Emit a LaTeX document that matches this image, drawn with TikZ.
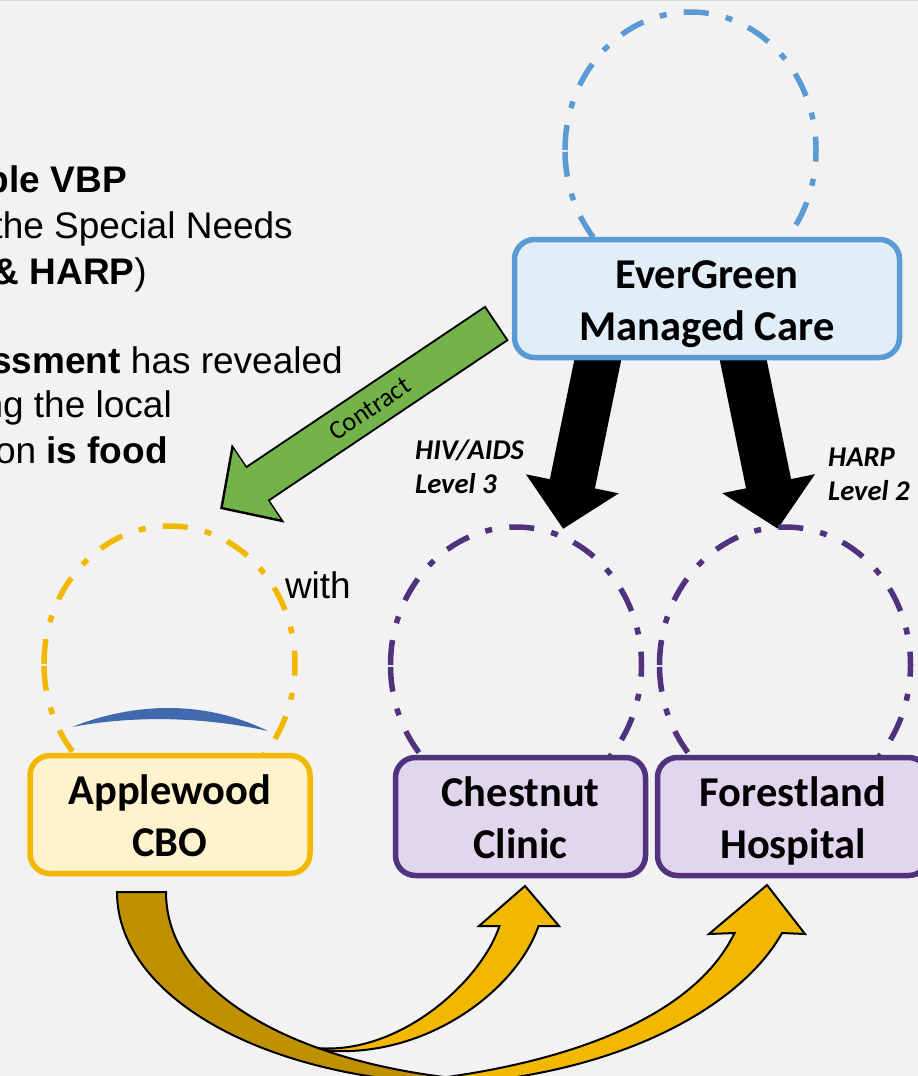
\documentclass[tikz,border=0pt]{standalone}
\usepackage{fontspec}
\setmainfont{Liberation Sans}
\newfontfamily\carlito{Carlito}
\usetikzlibrary{arrows.meta,backgrounds,calc,shapes.geometric}
\definecolor{pageGrey}{HTML}{F2F2F2}
\definecolor{edgeGrey}{HTML}{D9D9D9}
\definecolor{careBlue}{HTML}{5B9BD5}
\definecolor{careFill}{HTML}{E1EDF7}
\definecolor{cboGold}{HTML}{F2B800}
\definecolor{cboFill}{HTML}{FFF2CC}
\definecolor{cboDark}{HTML}{BF9000}
\definecolor{siteViolet}{HTML}{50337C}
\definecolor{siteFill}{HTML}{E0D7EE}
\definecolor{contractGreen}{HTML}{74B24A}
\definecolor{swooshBlue}{HTML}{4169AE}
\newcommand{\boxtext}[2]{\raisebox{-11.5pt}[0pt][0pt]{\begin{tabular}{@{}c@{}}#1\\#2\end{tabular}}}
\tikzset{
  ringnode/.style={ellipse, minimum width=251pt, minimum height=276pt, inner sep=0pt, outer sep=0pt},
  ringline/.style={line width=5.5pt, dash pattern=on 25pt off 17.4pt on 7pt off 17.4pt},
  boxnode/.style={draw=#1, line width=5.5pt, rounded corners=20pt, inner sep=0pt, outer sep=0pt,
    font=\carlito\bfseries\fontsize{42.5}{52}\selectfont},
  leftline/.style={anchor=base east, inner sep=0pt, font=\fontsize{37}{44}\selectfont},
  leveltext/.style={anchor=west, align=left, inner sep=0pt, font=\carlito\bfseries\itshape\fontsize{28.6}{34}\selectfont},
  bigarrow/.style={line width=46pt, -{Triangle[length=46pt,width=92pt]}},
  goldarrow/.style={draw=black, line width=2pt, fill=#1, line join=miter}
}
\begin{document}
\begin{tikzpicture}[x=1pt,y=-1pt]
\useasboundingbox (0,0) rectangle (918,1076);
% Left hand text
\node[leftline] (lineone) at (127,192) {\textbf{ble VBP}};
\node[leftline] (linetwo) at (293,238) {the Special Needs};
\node[leftline] (linethree) at (147,284) {\textbf{\& HARP})};
\node[leftline] (linefour) at (343,373) {\textbf{ssment} has revealed};
\node[leftline] (linefive) at (172,417) {ng the local};
\node[leftline] (linesix) at (168,463) {on \textbf{is food}};
\node[leftline] (withword) at (351,598) {with};
% Dashed rings
\node[ringnode] (evergreenring) at (690.5,150) {};
\node[ringnode] (applewoodring) at (169.5,664) {};
\node[ringnode] (chestnutring) at (516,665) {};
\node[ringnode] (forestlandring) at (785,665) {};
\foreach \ringname/\ringcolor in {evergreenring/careBlue, applewoodring/cboGold, chestnutring/siteViolet, forestlandring/siteViolet} {
    \draw[ringline, draw=\ringcolor] (\ringname.west) arc[start angle=180, delta angle=360, x radius=125.5, y radius=138];
}
\fill[swooshBlue] (72,727) .. controls (135,702) and (205,700) .. (268,731)
  .. controls (205,717) and (135,715) .. (72,727) -- cycle;
% Boxes
\node[boxnode=careBlue, fill=careFill, minimum width=385pt, minimum height=118pt] (evergreen) at (707,298.5) {\boxtext{EverGreen}{Managed Care}};
\node[boxnode=cboGold, fill=cboFill, minimum width=280pt, minimum height=118pt] (applewood) at (170,814.5) {\boxtext{Applewood}{CBO}};
\node[boxnode=siteViolet, fill=siteFill, minimum width=250pt, minimum height=118pt] (chestnut) at (520.5,816.5) {\boxtext{Chestnut}{Clinic}};
\node[boxnode=siteViolet, fill=siteFill, minimum width=271pt, minimum height=118pt] (forestland) at (793,816.5) {\boxtext{Forestland}{Hospital}};
% Level labels
\node[leveltext] (hivlabel) at (415,467) {HIV/AIDS\\Level 3};
\node[leveltext] (harplabel) at (828,474) {HARP\\Level 2};
% Contract arrow
\coordinate (contracttail) at (497,323);
\coordinate (contracttip) at (220,509);
\draw[line width=42pt, -{Triangle[length=46pt,width=92pt]}]
  (contracttail) -- (contracttip);
\draw[contractGreen, line width=38pt, -{Triangle[length=41pt,width=82pt]}, shorten <=2pt, shorten >=3.5pt]
  (contracttail) -- (contracttip) node[pos=0.46, sloped, black, inner sep=0pt, font=\carlito\fontsize{26.5}{30}\selectfont] (contractlabel) {Contract};
% Black arrows behind the top box
\begin{scope}[on background layer]
\fill[pageGrey] (0,0) rectangle (918,1076);
\fill[edgeGrey] (0,0) rectangle (918,1);
\draw[bigarrow] ($(evergreen.south)+(-103,-28)$) -- ($(chestnutring.70)+(0.5,-8)$);
\draw[bigarrow] ($(evergreen.south)+(30,-28)$) -- ($(forestlandring.93.5)+(0,1.5)$);
\end{scope}
% Curved arrows
\draw[goldarrow=cboGold] (296,1046) .. controls (410,1072) and (515,995) .. (538.5,926)
  -- (559,926) -- (525,886) -- (479,926) -- (499.5,926)
  .. controls (478,990) and (375,1076) .. (282,1040) -- cycle;
\draw[goldarrow=cboGold] (440,1085) .. controls (630,1075) and (745,1000) .. (782,933)
  -- (805,934) -- (767,885) -- (709,934) -- (734.5,933)
  .. controls (695,1015) and (575,1060) .. (440,1078) -- cycle;
\draw[goldarrow=cboDark] (117,892) .. controls (117,995) and (260,1078) .. (453,1084)
  -- (453,1078) .. controls (290,1060) and (166,990) .. (166,892) -- cycle;
\end{tikzpicture}
\end{document}
